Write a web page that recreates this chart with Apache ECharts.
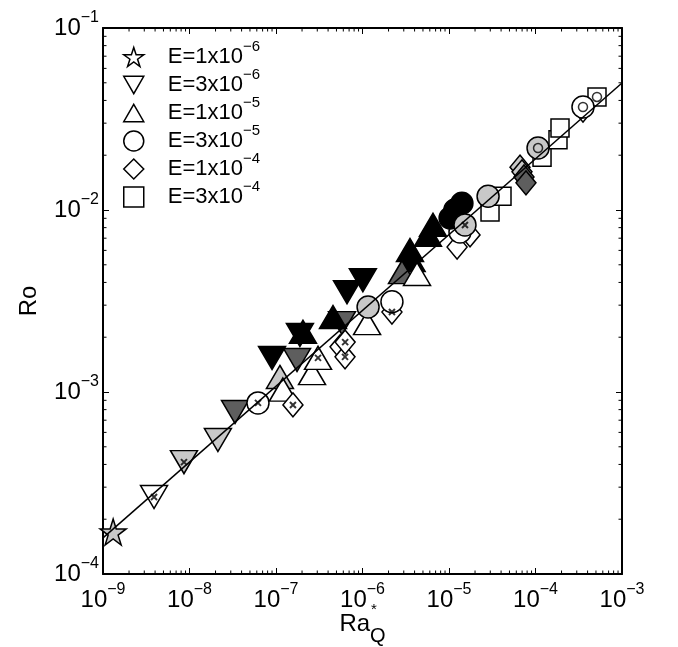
<!DOCTYPE html>
<html>
<head>
<meta charset="utf-8">
<script src="https://cdn.jsdelivr.net/npm/echarts@6/dist/echarts.min.js"></script>
<style>
html, body { margin: 0; padding: 0; background: #fff; }
#chart { width: 678px; height: 647px; }
</style>
</head>
<body>
<div id="chart"></div>
<script>
var FONT = '"Liberation Sans", Arial, Helvetica, sans-serif';

// shade index: 0 white, 1 light grey, 2 dark grey, 3 black
// mark: 0 none, 1 small cross, 2 small ring
// E = 1x10^-6
var e1X = [1.31e-9];
var e1Y = [1.70e-4];
var e1Shade = [1];
var e1Mark = [0];

// E = 3x10^-6
var e2X = [3.89e-9, 8.63e-9, 2.13e-8, 3.36e-8, 9.0e-8, 1.75e-7, 1.89e-7, 5.79e-7, 6.62e-7, 1.01e-6];
var e2Y = [2.65e-4, 4.12e-4, 5.45e-4, 7.76e-4, 1.54e-3, 1.50e-3, 2.06e-3, 2.39e-3, 3.54e-3, 4.12e-3];
var e2Shade = [0, 1, 1, 2, 3, 2, 3, 2, 3, 3];
var e2Mark = [1, 1, 0, 0, 0, 0, 0, 0, 0, 0];

// E = 1x10^-5
var e3X = [1.11e-7, 1.20e-7, 2.61e-7, 3.06e-7, 2.05e-7, 4.56e-7, 1.13e-6, 3.54e-6, 3.70e-6, 2.86e-6, 4.27e-6, 6.53e-6, 5.71e-6];
var e3Y = [1.21e-3, 1.03e-3, 1.27e-3, 1.54e-3, 2.14e-3, 2.58e-3, 2.39e-3, 6.03e-3, 5.31e-3, 4.56e-3, 4.45e-3, 8.28e-3, 7.30e-3];
var e3Shade = [1, 0, 0, 0, 3, 3, 0, 3, 3, 2, 0, 3, 3];
var e3Mark = [0, 0, 0, 1, 0, 0, 0, 0, 0, 0, 0, 0, 0];

// E = 3x10^-5
var e4X = [6.19e-8, 1.16e-6, 2.19e-6, 1.34e-5, 1.03e-5, 1.17e-5, 1.41e-5, 1.53e-5, 2.83e-5, 1.07e-4, 3.54e-4];
var e4Y = [8.71e-4, 2.93e-3, 3.13e-3, 7.57e-3, 9.04e-3, 1.00e-2, 1.09e-2, 8.28e-3, 1.19e-2, 2.19e-2, 3.68e-2];
var e4Shade = [0, 1, 0, 0, 3, 3, 3, 1, 1, 1, 0];
var e4Mark = [1, 0, 0, 0, 0, 0, 0, 1, 0, 2, 2];

// E = 1x10^-4
var e5X = [1.57e-7, 5.5e-7, 6.28e-7, 6.3e-7, 2.19e-6, 1.24e-5, 1.75e-5, 6.62e-5, 6.98e-5, 7.36e-5, 7.76e-5, 3.54e-4];
var e5Y = [8.49e-4, 1.77e-3, 1.56e-3, 1.88e-3, 2.75e-3, 6.26e-3, 7.30e-3, 1.72e-2, 1.62e-2, 1.52e-2, 1.41e-2, 3.54e-2];
var e5Shade = [0, 0, 0, 0, 0, 0, 0, 1, 1, 2, 2, 0];
var e5Mark = [1, 0, 1, 1, 1, 0, 0, 0, 0, 0, 0, 0];

// E = 3x10^-4
var e6X = [2.98e-5, 4.10e-5, 1.19e-4, 1.82e-4, 1.92e-4, 5.14e-4];
var e6Y = [9.75e-3, 1.19e-2, 1.95e-2, 2.43e-2, 2.82e-2, 4.18e-2];
var e6Shade = [0, 0, 0, 0, 0, 0];
var e6Mark = [0, 0, 0, 0, 0, 2];

// fitted scaling line
var fitX = [1e-9, 1e-3];
var fitY = [1.58e-4, 4.99e-2];

var seriesNames = ['E=1x10^-6', 'E=3x10^-6', 'E=1x10^-5', 'E=3x10^-5', 'E=1x10^-4', 'E=3x10^-4'];

var shadeColors = ['#ffffff', '#c8c8c8', '#5e5e5e', '#000000'];

var STAR = 'path://M50,0L61.2,34.5L97.6,34.5L68.2,55.9L79.4,90.5L50,69.1L20.6,90.5L31.8,55.9L2.4,34.5L38.8,34.5Z';
var TRI_DOWN = 'path://M0,0L10,0L5,8.66Z';
var TRI_UP = 'path://M5,0L10,8.66L0,8.66Z';

var minorX = [];
for (var k = -9; k < -3; k++) for (var m = 2; m < 10; m++) minorX.push(m * Math.pow(10, k));
var minorY = [];
for (var k2 = -4; k2 < -1; k2++) for (var m2 = 2; m2 < 10; m2++) minorY.push(m2 * Math.pow(10, k2));

function pts(xs, ys, shade) {
  return xs.map(function (x, i) {
    return { value: [x, ys[i]], itemStyle: { color: shadeColors[shade[i]] } };
  });
}

function marks(kind) {
  var groups = [[e1X, e1Y, e1Mark], [e2X, e2Y, e2Mark], [e3X, e3Y, e3Mark],
                [e4X, e4Y, e4Mark], [e5X, e5Y, e5Mark], [e6X, e6Y, e6Mark]];
  var out = [];
  groups.forEach(function (g) {
    g[2].forEach(function (f, i) { if (f === kind) out.push([g[0][i], g[1][i]]); });
  });
  return out;
}

function expLabel(v) {
  var e = Math.round(Math.log(v) / Math.LN10);
  return '{b|10}{s|' + (e < 0 ? '\u2212' + (-e) : e) + '}';
}

var tickRich = {
  b: { fontSize: 24, fontFamily: FONT, color: '#000', lineHeight: 36, verticalAlign: 'middle' },
  s: { fontSize: 16, fontFamily: FONT, color: '#000', lineHeight: 14, verticalAlign: 'top' }
};

function markerSeries(name, xs, ys, shade, symbol, size) {
  return {
    name: name, type: 'scatter', xAxisIndex: 0, yAxisIndex: 0,
    symbol: symbol, symbolSize: size,
    itemStyle: { borderColor: '#000', borderWidth: 1.5, opacity: 1 },
    data: pts(xs, ys, shade), z: 3
  };
}

function minorTicks(axisDim) {
  return {
    type: 'custom', xAxisIndex: 0, yAxisIndex: 0, silent: true, z: 6, clip: false,
    data: axisDim === 'x' ? minorX.map(function (v) { return [v, 1e-2]; })
                          : minorY.map(function (v) { return [1e-6, v]; }),
    renderItem: function (params, api) {
      var cs = params.coordSys;
      var p = api.coord([api.value(0), api.value(1)]);
      var st = { stroke: '#000', lineWidth: 1 };
      var L = 3.5;
      if (axisDim === 'x') {
        var b = cs.y + cs.height;
        return { type: 'group', children: [
          { type: 'line', shape: { x1: p[0], y1: b, x2: p[0], y2: b - L }, style: st },
          { type: 'line', shape: { x1: p[0], y1: cs.y, x2: p[0], y2: cs.y + L }, style: st }
        ] };
      }
      var r = cs.x + cs.width;
      return { type: 'group', children: [
        { type: 'line', shape: { x1: cs.x, y1: p[1], x2: cs.x + L, y2: p[1] }, style: st },
        { type: 'line', shape: { x1: r, y1: p[1], x2: r - L, y2: p[1] }, style: st }
      ] };
    }
  };
}

function axisBase(extra) {
  var a = {
    type: 'log', logBase: 10,
    axisLine: { show: true, onZero: false, lineStyle: { color: '#000', width: 2 } },
    axisTick: { show: true, inside: true, length: 6, lineStyle: { color: '#000', width: 1 } },
    splitLine: { show: false },
    minorTick: { show: false },
    minorSplitLine: { show: false }
  };
  for (var key in extra) a[key] = extra[key];
  return a;
}

var legendIcons = [STAR, TRI_DOWN, TRI_UP, 'circle', 'diamond', 'rect'];

var chart = echarts.init(document.getElementById('chart'));
chart.setOption({
  animation: false,
  backgroundColor: '#fff',
  grid: { left: 103, top: 28, width: 519, height: 546, outerBoundsMode: 'none' },
  xAxis: [
    axisBase({
      position: 'bottom', min: 1e-9, max: 1e-3,
      axisLabel: { margin: 8, formatter: expLabel, rich: tickRich },
      name: '{r|Ra}{q|Q}', nameLocation: 'middle', nameGap: 38, nameMoveOverlap: false,
      nameTextStyle: { rich: {
        r: { fontSize: 24, fontFamily: FONT, color: '#000', lineHeight: 34, verticalAlign: 'top' },
        q: { fontSize: 20, fontFamily: FONT, color: '#000', lineHeight: 20, verticalAlign: 'bottom' }
      } }
    }),
    axisBase({ position: 'top', min: 1e-9, max: 1e-3, axisLabel: { show: false } })
  ],
  yAxis: [
    axisBase({
      position: 'left', min: 1e-4, max: 1e-1,
      axisLabel: { margin: 4, formatter: expLabel, rich: tickRich },
      name: 'Ro', nameLocation: 'middle', nameGap: 62, nameMoveOverlap: false,
      nameTextStyle: { fontSize: 24, fontFamily: FONT, color: '#000' }
    }),
    axisBase({ position: 'right', min: 1e-4, max: 1e-1, axisLabel: { show: false } })
  ],
  legend: {
    orient: 'vertical', left: 123, top: 39, padding: 0,
    itemWidth: 20, itemHeight: 20, itemGap: -1,
    selectedMode: false,
    data: seriesNames.map(function (n, i) {
      return { name: n, icon: legendIcons[i],
               itemStyle: { color: '#fff', borderColor: '#000', borderWidth: 1.5 } };
    }),
    formatter: function (name) {
      var p = name.split('^');
      return '{b|' + p[0] + '}{s|' + p[1].replace('-', '\u2212') + '}';
    },
    textStyle: {
      padding: [0, 0, 0, 19],
      rich: {
        b: { fontSize: 22, fontFamily: FONT, color: '#000', lineHeight: 36, verticalAlign: 'middle' },
        s: { fontSize: 15, fontFamily: FONT, color: '#000', lineHeight: 14, verticalAlign: 'top' }
      }
    }
  },
  graphic: [
    { type: 'text', left: 371, top: 602, silent: true,
      style: { text: '*', fontSize: 15, fontFamily: FONT, fill: '#000' } }
  ],
  series: [
    markerSeries(seriesNames[0], e1X, e1Y, e1Shade, STAR, 26),
    markerSeries(seriesNames[1], e2X, e2Y, e2Shade, TRI_DOWN, [27, 23]),
    markerSeries(seriesNames[2], e3X, e3Y, e3Shade, TRI_UP, [27, 23]),
    markerSeries(seriesNames[4], e5X, e5Y, e5Shade, 'diamond', [20, 24]),
    markerSeries(seriesNames[5], e6X, e6Y, e6Shade, 'rect', 18),
    markerSeries(seriesNames[3], e4X, e4Y, e4Shade, 'circle', 22),
    {
      name: 'cross', type: 'scatter', xAxisIndex: 0, yAxisIndex: 0, silent: true, z: 4,
      symbol: 'path://M0,0L10,10M10,0L0,10', symbolSize: 6,
      itemStyle: { color: 'none', borderColor: '#000', borderWidth: 2 },
      data: marks(1)
    },
    {
      name: 'ring', type: 'scatter', xAxisIndex: 0, yAxisIndex: 0, silent: true, z: 4,
      symbol: 'circle', symbolSize: 9,
      itemStyle: { color: 'rgba(0,0,0,0)', borderColor: '#000', borderWidth: 1.5 },
      data: marks(2)
    },
    {
      name: 'fit', type: 'line', xAxisIndex: 0, yAxisIndex: 0, silent: true, z: 5,
      showSymbol: false, symbol: 'none',
      lineStyle: { color: '#000', width: 1.5 },
      data: fitX.map(function (x, i) { return [x, fitY[i]]; })
    },
    minorTicks('x'),
    minorTicks('y')
  ]
});
</script>
</body>
</html>
